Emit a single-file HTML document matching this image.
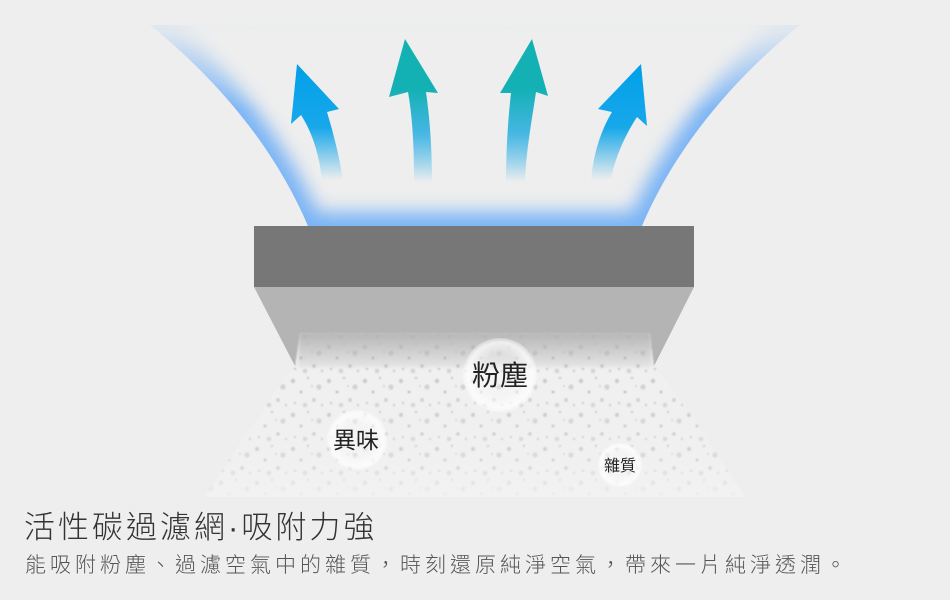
<!DOCTYPE html>
<html><head><meta charset="utf-8"><style>
html,body{margin:0;padding:0;background:#eeeeee;}
svg{display:block}
</style></head><body>
<svg width="950" height="600" viewBox="0 0 950 600" xmlns="http://www.w3.org/2000/svg">
<defs>
<linearGradient id="stemB" x1="0" y1="1" x2="0" y2="0">
<stop offset="0" stop-color="#00a0e9" stop-opacity="0"/>
<stop offset="0.45" stop-color="#00a0e9" stop-opacity="0.9"/>
<stop offset="1" stop-color="#00a0e9"/>
</linearGradient>
<linearGradient id="stemT" x1="0" y1="1" x2="0" y2="0">
<stop offset="0" stop-color="#00a0e9" stop-opacity="0"/>
<stop offset="0.35" stop-color="#30b0e0" stop-opacity="0.9"/>
<stop offset="0.65" stop-color="#13b1b4"/>
<stop offset="1" stop-color="#13b1b4"/>
</linearGradient>
<filter id="blur9"><feGaussianBlur stdDeviation="9"/></filter>
<filter id="blur2"><feGaussianBlur stdDeviation="2"/></filter>
<filter id="blur1"><feGaussianBlur stdDeviation="0.8"/></filter>
<linearGradient id="fadeTop" x1="0" y1="0" x2="0" y2="1">
<stop offset="0" stop-color="#eeeeee" stop-opacity="1"/>
<stop offset="0.3" stop-color="#eeeeee" stop-opacity="0.85"/>
<stop offset="1" stop-color="#eeeeee" stop-opacity="0"/>
</linearGradient>
<radialGradient id="bub" cx="0.5" cy="0.5" r="0.5">
<stop offset="0.55" stop-color="#ffffff" stop-opacity="0.25"/>
<stop offset="0.88" stop-color="#ffffff" stop-opacity="0.75"/>
<stop offset="1" stop-color="#ffffff" stop-opacity="0.3"/>
</radialGradient>
<pattern id="speck" width="36" height="34" patternUnits="userSpaceOnUse">
<rect width="36" height="34" fill="#f0f0f0"/>
<circle cx="5" cy="7" r="2.2" fill="#c8c8c8"/>
<circle cx="20" cy="4" r="1.2" fill="#c4c4c4"/>
<circle cx="31" cy="13" r="2.6" fill="#d0d0d0"/>
<circle cx="13" cy="18" r="1.5" fill="#c0c0c0"/>
<circle cx="26" cy="26" r="1.9" fill="#c9c9c9"/>
<circle cx="7" cy="29" r="1.1" fill="#bcbcbc"/>
<circle cx="34" cy="31" r="1.2" fill="#c6c6c6"/>
<circle cx="17" cy="31" r="2.3" fill="#d2d2d2"/>
<circle cx="24" cy="12" r="0.9" fill="#bdbdbd"/>
</pattern>
<linearGradient id="botFade" x1="0" y1="0" x2="0" y2="1">
<stop offset="0" stop-color="#f2f2f2" stop-opacity="0"/>
<stop offset="0.75" stop-color="#f2f2f2" stop-opacity="0.3"/>
<stop offset="1" stop-color="#f2f2f2" stop-opacity="0.9"/>
</linearGradient>
<linearGradient id="inFade" x1="0" y1="0" x2="0" y2="1">
<stop offset="0" stop-color="#b4b4b4" stop-opacity="1"/>
<stop offset="1" stop-color="#b4b4b4" stop-opacity="0.2"/>
</linearGradient>
</defs>

<!-- blue funnel glow -->
<path d="M150,25 C230,90 280,160 308,226 L642,226 C670,160 720,90 800,25 Z" fill="#7ab4f5"/>
<path d="M172,18 C250,90 293,160 318,212 L632,212 C657,160 700,90 778,18 Z" fill="#eeeeee" filter="url(#blur9)"/>
<rect x="120" y="0" width="710" height="110" fill="url(#fadeTop)"/>

<!-- arrows -->
<path d="M322,180 C320,160 314,135 301,115 L291,124 L297,64 L339,109 L327,112 C334,135 340,160 343,180Z" fill="url(#stemB)"/>
<path d="M414,182 C414,150 413,120 408,92 L389,97 L405,39 L438,93 L426,92 C430,120 432,150 432,182Z" fill="url(#stemT)"/>
<path d="M506,182 C506,150 508,120 511,93 L500,93 L532,39 L548,96 L536,92 C532,120 526,150 525,182Z" fill="url(#stemT)"/>
<path d="M591,180 C593,160 598,135 612,112 L598,109 L641,64 L647,126 L637,117 C625,135 614,160 611,180Z" fill="url(#stemB)"/>

<!-- bars -->
<rect x="254" y="226" width="440" height="61" fill="#777777"/>
<polygon points="254,287 694,287 654,366 295,366" fill="#b4b4b4"/>

<!-- speckled filter area -->
<g filter="url(#blur1)">
<path d="M300,333 L650,333 L654,366 C690,410 720,460 745,497 L205,497 C230,460 260,410 295,366Z" fill="url(#speck)"/>
</g>
<rect x="298" y="331" width="354" height="36" fill="url(#inFade)" filter="url(#blur2)"/>
<path d="M295,366 L654,366 C690,410 720,460 745,497 L205,497 C230,460 260,410 295,366Z" fill="url(#botFade)"/>

<!-- bubbles -->
<circle cx="500" cy="375" r="37" fill="url(#bub)"/>
<circle cx="357" cy="440" r="30" fill="url(#bub)"/>
<circle cx="620" cy="465" r="22" fill="url(#bub)"/>
<g font-family="Liberation Sans, Noto Sans CJK TC, sans-serif" fill="#222" text-anchor="middle">
<text x="500" y="385" font-size="28">粉塵</text>
<text x="356" y="448" font-size="23">異味</text>
<text x="620" y="471" font-size="16">雜質</text>
</g>

<!-- text -->
<g font-family="Liberation Sans, Noto Sans CJK TC, sans-serif" font-weight="300">
<text x="24" y="538" font-size="31" fill="#333" letter-spacing="3">活性碳過濾網·吸附力強</text>
<text x="25" y="572" font-size="21" fill="#555" letter-spacing="4">能吸附粉塵、過濾空氣中的雜質，時刻還原純淨空氣，帶來一片純淨透潤。</text>
</g>
</svg>
</body></html>
